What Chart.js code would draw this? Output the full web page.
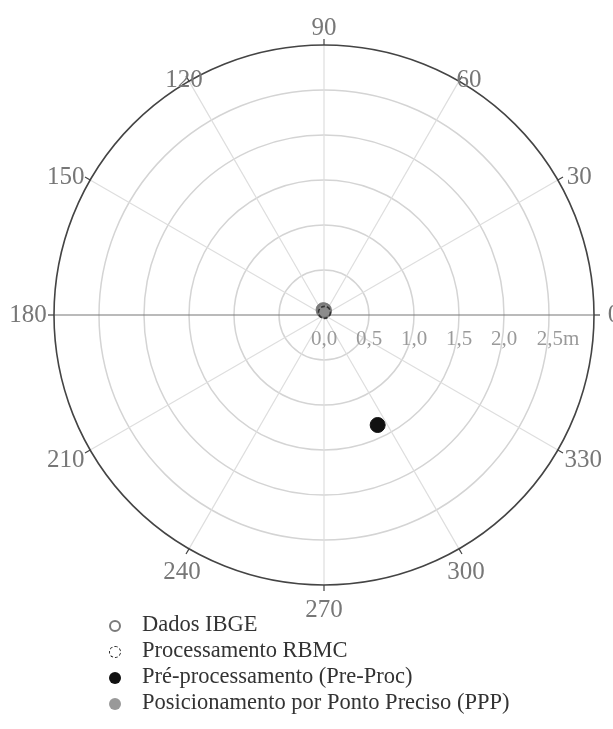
<!DOCTYPE html>
<html>
<head>
<meta charset="utf-8">
<script src="https://cdn.jsdelivr.net/npm/chart.js@4"></script>
<style>
  html, body { margin: 0; padding: 0; background: #fff; }
  #wrap { position: relative; width: 613px; height: 729px; }
  #legend { position: absolute; left: 109px; top: 611px; font-family: "Liberation Serif", serif; font-size: 22.5px; color: #333; }
  #legend div { height: 26px; line-height: 26px; white-space: nowrap; }
  #legend span.mk { display: inline-block; width: 12px; height: 12px; border-radius: 50%; margin-right: 21px; vertical-align: -1px; box-sizing: border-box; }
</style>
</head>
<body>
<div id="wrap">
  <canvas id="myChart" width="613" height="729"></canvas>
  <div id="legend"></div>
</div>
<script>
// series: angle in degrees, distance in metres
const seriesLabels = ['Dados IBGE', 'Processamento RBMC', 'Pré-processamento (Pre-Proc)', 'Posicionamento por Ponto Preciso (PPP)'];
const seriesAngles = [90, 80, 296, 100];
const seriesRadii = [0.05, 0.03, 1.36, 0.06];

const ringValues = [0.5, 1.0, 1.5, 2.0, 2.5];
const ringLabels = ['0,0', '0,5', '1,0', '1,5', '2,0', '2,5m'];
const angleTicks = [0, 30, 60, 90, 120, 150, 180, 210, 240, 270, 300, 330];
const maxRadius = 3.0;

// small hand placement of the angle labels, like the original figure
const labelNudge = {
    0: [0, 0], 30: [4, 7], 60: [0, 17], 90: [0, 3], 120: [5, 17], 150: [-7, 7],
    180: [-6, 0], 210: [-7, 0], 240: [3, 6], 270: [0, 5], 300: [-3, 6], 330: [8, 0]
};

const styles = [
    { bg: 'rgba(0,0,0,0)', border: '#7a7a7a', width: 2.2 },
    { bg: 'rgba(0,0,0,0)', border: '#222', width: 0 },
    { bg: '#111', border: '#111', width: 1 },
    { bg: '#8c8c8c', border: '#8c8c8c', width: 1 }
];

function toXY(angleDeg, r) {
    const a = angleDeg * Math.PI / 180;
    return { x: r * Math.cos(a), y: r * Math.sin(a) };
}

const polarGrid = {
    id: 'polarGrid',
    beforeDatasetsDraw(chart) {
        const ctx = chart.ctx;
        const xs = chart.scales.x, ys = chart.scales.y;
        const cx = xs.getPixelForValue(0), cy = ys.getPixelForValue(0);
        const px = v => xs.getPixelForValue(v) - cx;
        const R = px(maxRadius);
        ctx.save();
        // rings
        ctx.strokeStyle = '#d4d4d4';
        ctx.lineWidth = 1.5;
        ringValues.forEach(v => {
            ctx.beginPath();
            ctx.arc(cx, cy, px(v), 0, Math.PI * 2);
            ctx.stroke();
        });
        // spokes
        ctx.strokeStyle = '#dedede';
        ctx.lineWidth = 1.2;
        angleTicks.forEach(t => {
            if (t % 180 === 0) return;
            const p = toXY(t, maxRadius);
            ctx.beginPath();
            ctx.moveTo(cx, cy);
            ctx.lineTo(xs.getPixelForValue(p.x), ys.getPixelForValue(p.y));
            ctx.stroke();
        });
        // horizontal axis
        ctx.strokeStyle = '#777';
        ctx.lineWidth = 1.2;
        ctx.beginPath();
        ctx.moveTo(cx - R, cy);
        ctx.lineTo(cx + R, cy);
        ctx.stroke();
        // outer circle
        ctx.strokeStyle = '#444';
        ctx.lineWidth = 1.6;
        ctx.beginPath();
        ctx.arc(cx, cy, R, 0, Math.PI * 2);
        ctx.stroke();
        // ticks and angle labels
        ctx.font = '25px "Liberation Serif", serif';
        ctx.fillStyle = '#777';
        ctx.textAlign = 'center';
        ctx.textBaseline = 'middle';
        angleTicks.forEach(t => {
            const a = t * Math.PI / 180;
            const c = Math.cos(a), s = Math.sin(a);
            ctx.strokeStyle = '#444';
            ctx.lineWidth = 1.2;
            ctx.beginPath();
            ctx.moveTo(cx + c * R, cy - s * R);
            ctx.lineTo(cx + c * (R + 6), cy - s * (R + 6));
            ctx.stroke();
            const lr = R + 20;
            const n = labelNudge[t];
            ctx.fillText(String(t), cx + c * lr + n[0], cy - s * lr + n[1]);
        });
        // ring labels
        ctx.font = '21px "Liberation Serif", serif';
        ctx.fillStyle = '#9a9a9a';
        ringLabels.forEach((lab, i) => {
            const x = xs.getPixelForValue(i * 0.5);
            ctx.fillText(lab, x + (i === 5 ? 9 : 0), cy + 24);
        });
        ctx.restore();
    }
};

const datasets = seriesLabels.map((lab, i) => ({
    label: lab,
    data: [toXY(seriesAngles[i], seriesRadii[i])],
    backgroundColor: styles[i].bg,
    borderColor: styles[i].border,
    borderWidth: styles[i].width,
    pointRadius: i === 2 ? 7.5 : 7,
    pointHoverRadius: 7
}));

const dashPlugin = {
    id: 'dashPoints',
    afterDatasetsDraw(chart) {
        // dashed ring marker for RBMC
        const ctx = chart.ctx;
        const pt = chart.getDatasetMeta(1).data[0];
        ctx.save();
        ctx.setLineDash([4, 2]);
        ctx.strokeStyle = '#333';
        ctx.lineWidth = 1.6;
        ctx.beginPath();
        ctx.arc(pt.x, pt.y, 6, 0, Math.PI * 2);
        ctx.stroke();
        ctx.restore();
    }
};

const ctx = document.getElementById('myChart').getContext('2d');
window.myChart = new Chart(ctx, {
    type: 'scatter',
    data: { datasets: datasets },
    options: {
        responsive: false,
        animation: false,
        layout: { padding: { left: 54, right: 19, top: 45, bottom: 144 } },
        plugins: { legend: { display: false }, tooltip: { enabled: false } },
        scales: {
            x: { display: false, min: -maxRadius, max: maxRadius },
            y: { display: false, min: -maxRadius, max: maxRadius }
        }
    },
    plugins: [polarGrid, dashPlugin]
});

const legendEl = document.getElementById('legend');
seriesLabels.forEach((lab, i) => {
    const row = document.createElement('div');
    const mk = document.createElement('span');
    mk.className = 'mk';
    if (i === 0) mk.style.border = '2px solid #7a7a7a';
    if (i === 1) mk.style.border = '1.5px dashed #222';
    if (i === 2) mk.style.background = '#111';
    if (i === 3) mk.style.background = '#999';
    row.appendChild(mk);
    row.appendChild(document.createTextNode(lab));
    legendEl.appendChild(row);
});
</script>
</body>
</html>
